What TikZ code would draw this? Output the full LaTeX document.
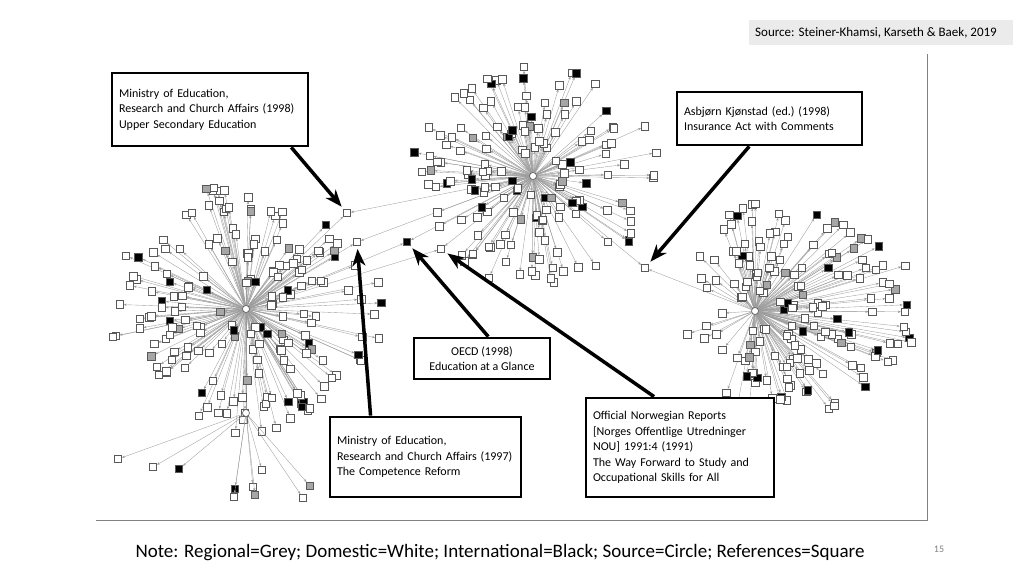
\documentclass[tikz,border=0pt]{standalone}
\usepackage{fontspec}
\setmainfont{Carlito}
\usetikzlibrary{arrows.meta,calc}
\definecolor{midgray}{HTML}{A6A6A6}
\definecolor{spokegray}{HTML}{9C9C9C}
\definecolor{srcgray}{HTML}{EBEBEB}
\tikzset{
  refsq/.style={rectangle, draw=gray!70!black, line width=0.6pt, minimum size=7.5pt, inner sep=0pt},
  spot/.style={rectangle, minimum size=7.5pt, inner sep=0pt},
  srcdot/.style={circle, draw=gray!70!black, fill=white, line width=0.6pt, minimum size=7pt, inner sep=0pt},
  spoke/.style={draw=spokegray, line width=0.35pt, -{Stealth[length=3pt,width=2.4pt]}},
  notebox/.style={draw, line width=2.8pt, fill=white, align=left, inner sep=0pt,
    font=\fontsize{12}{15.5}\selectfont\frenchspacing},
  callout/.style={line width=3.5pt, -{Stealth[length=17pt,width=13pt,inset=5pt]}, shorten >=3pt},
}
% one star of reference spots round a source, with its spokes
\newcommand{\sqcluster}[7]{%
  \foreach \i in {1,...,#3}{
    \pgfmathsetmacro\ang{#4+(#5-#4)*rnd}
    \pgfmathsetmacro\rad{0.16+0.84*rnd^0.85}
    \pgfmathsetmacro\pick{rnd}
    \pgfmathsetmacro\col{ifthenelse(\pick<0.13,"black",ifthenelse(\pick<0.21,"midgray","white"))}
    \expandafter\xdef\csname col#2\i\endcsname{\col}
    \node[spot] (#2\i) at ($(#1)+(\ang:{#6*\rad} and {#7*\rad})$) {};
    \draw[spoke] (#1) -- (#2\i);
  }%
}
% the squares on top of the spokes
\newcommand{\sqfill}[2]{%
  \foreach \i in {1,...,#2}{
    \node[refsq, fill=\csname col#1\i\endcsname] (#1\i sq) at (#1\i) {};
  }%
}
\pgfmathsetseed{4711}
\begin{document}
\begin{tikzpicture}[x=1pt,y=-1pt]
\useasboundingbox (0,0) rectangle (1024,576);

% frame
\draw[gray, line width=0.8pt] (96,520) -- (927,520) -- (927,54);
\fill[srcgray] (749,20) rectangle (1013,45);
\node[font=\fontsize{13}{15}\selectfont] (src) at (876,32.5) {Source: Steiner-Khamsi, Karseth \& Baek, 2019};

% sources
\coordinate (th) at (533,176);
\coordinate (lh) at (246,309);
\coordinate (rh) at (755,311);
\coordinate (dh) at (246,413);
\draw[spoke] (lh) -- (dh);

\sqcluster{th}{t}{160}{0}{360}{128}{110}
\sqcluster{lh}{l}{190}{0}{360}{138}{126}
\sqcluster{rh}{r}{155}{-105}{105}{166}{110}
\sqcluster{rh}{q}{16}{110}{250}{75}{90}

% shared references
\node[spot] (b1) at (347,213) {};
\node[spot] (b2) at (357,242) {};
\node[spot] (b3) at (407,242) {};
\node[spot] (b4) at (441,249) {};
\node[spot] (b5) at (645,268) {};
\foreach \b in {b1,b2,b3,b4}{
  \draw[spoke] (th) -- (\b);
  \draw[spoke] (lh) -- (\b);
}
\draw[spoke] (th) -- (b5);
\draw[spoke] (rh) -- (b5);

\sqfill{t}{160}
\sqfill{l}{190}
\sqfill{r}{155}
\sqfill{q}{16}

% squares of the small source
\foreach \nm/\x/\y/\col in {d1/118/459/white, d2/153/467/white, d3/179/469/black,
    d4/235/489/black, d5/234/497/white, d6/253/487/white, d7/255/495/midgray,
    d8/310/486/midgray, d9/303/498/white, d10/262/470/white}{
  \node[spot] (\nm) at (\x,\y) {};
  \draw[spoke] (dh) -- (\nm);
  \node[refsq, fill=\col] (\nm sq) at (\nm) {};
}

\foreach \b/\col in {b1/white, b2/white, b3/black, b4/white, b5/white}
  \node[refsq, fill=\col] (\b sq) at (\b) {};

\foreach \h in {th,lh,rh,dh}
  \node[srcdot] (\h dot) at (\h) {};

% labels
\node[notebox, minimum width=196pt, minimum height=73pt, text width=182pt] (upper) at (210,109.5)
  {Ministry of Education,\\Research and Church Affairs (1998)\\Upper Secondary Education};
\node[notebox, minimum width=185pt, minimum height=53pt, text width=171pt] (insur) at (769.5,118.5)
  {Asbjørn Kjønstad (ed.) (1998)\\Insurance Act with Comments};
\node[notebox, minimum width=136pt, minimum height=41pt, align=center] (oecd) at (482,358.5)
  {OECD (1998)\\Education at a Glance};
\node[notebox, minimum width=191pt, minimum height=80pt, text width=177pt] (compet) at (425.5,457)
  {Ministry of Education,\\Research and Church Affairs (1997)\\The Competence Reform};
\node[notebox, minimum width=188pt, minimum height=99pt, text width=174pt] (nou) at (680,447.5)
  {Official Norwegian Reports\\{}[Norges Offentlige Utredninger\\NOU] 1991:4 (1991)\\The Way Forward to Study and\\Occupational Skills for All};

\draw[callout] (upper.-25) -- (b1);
\draw[callout] (insur.234) -- (b5);
\draw[callout] (oecd.74) -- (b3);
\draw[callout] (compet.143) -- (b2);
\draw[callout] (nou.117) -- (b4);

\node[font=\fontsize{19}{23}\selectfont] (note) at (500,553)
  {Note: Regional=Grey; Domestic=White; International=Black; Source=Circle; References=Square};
\node[text=gray, font=\fontsize{10}{12}\selectfont] (page) at (939,549) {15};
\end{tikzpicture}
\end{document}
